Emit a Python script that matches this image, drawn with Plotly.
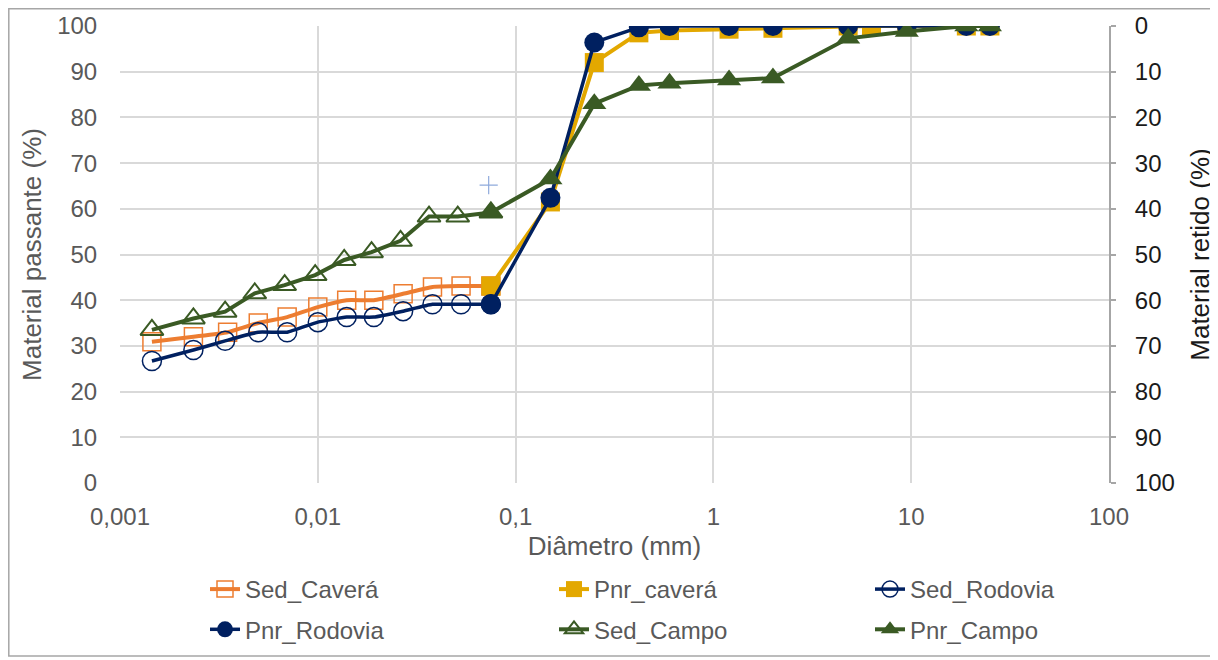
import plotly.graph_objects as go

# ---------------- data ----------------
sed_caveras_x = [0.00145, 0.00235, 0.0035, 0.0050, 0.0070, 0.0100, 0.0140, 0.0192, 0.0270, 0.0380, 0.0530, 0.075]
sed_caveras_y = [30.9, 32.0, 33.0, 35.0, 36.3, 38.5, 40.0, 40.0, 41.4, 42.9, 43.1, 43.1]

pnr_caveras_x = [0.075, 0.15, 0.25, 0.42, 0.6, 1.2, 2.0, 4.8, 6.3, 9.5, 19, 25]
pnr_caveras_y = [43.1, 61.5, 92.0, 98.5, 99.0, 99.3, 99.5, 100, 100, 100, 100, 100]

sed_rodovia_x = [0.00145, 0.00235, 0.0034, 0.0050, 0.0070, 0.0100, 0.0140, 0.0192, 0.0270, 0.0380, 0.0530, 0.075]
sed_rodovia_y = [26.7, 29.1, 31.1, 33.0, 33.0, 35.2, 36.3, 36.3, 37.6, 39.1, 39.1, 39.1]

pnr_rodovia_x = [0.075, 0.15, 0.25, 0.42, 0.6, 1.2, 2.0, 4.8, 9.5, 19, 25]
pnr_rodovia_y = [39.1, 62.4, 96.4, 99.7, 100, 100, 100, 100, 100, 100, 100]

sed_campo_x = [0.00145, 0.00235, 0.0034, 0.0048, 0.0068, 0.0097, 0.0136, 0.0187, 0.0262, 0.0365, 0.0510, 0.075]
sed_campo_y = [33.5, 36.0, 37.5, 41.5, 43.3, 45.5, 48.8, 50.5, 53.0, 58.3, 58.3, 59.2]

pnr_campo_x = [0.075, 0.15, 0.25, 0.42, 0.6, 1.2, 2.0, 4.8, 9.5, 19, 25]
pnr_campo_y = [59.2, 66.5, 83.0, 87.0, 87.5, 88.2, 88.6, 97.3, 98.8, 100, 100]

x_tickvals = [0.001, 0.01, 0.1, 1, 10, 100]
x_ticktext = ["0,001", "0,01", "0,1", "1", "10", "100"]
y_ticks = list(range(0, 101, 10))

# ---------------- style ----------------
ORANGE = "#ED7D31"
GOLD = "#E3A800"
NAVY = "#002060"
GREEN = "#3A5A24"
GRID = "#D9D9D9"
TXT = "#595959"
DARK = "#1A1A1A"
AXIS = "#A6A6A6"
FONT = "Liberation Sans, Arial, sans-serif"
TICK_SIZE = 24
TITLE_SIZE = 26
LEG_SIZE = 24

# the page adds an 8px body margin; work in page pixels and convert
OFF = 8
PAGE_W, PAGE_H = 1218, 660
W, H = PAGE_W - OFF, PAGE_H - OFF
PL, PR, PT, PB = 120, 1109, 26, 483          # plot area in page pixels
L, T = PL - OFF, PT - OFF
R, B = PAGE_W - PR, PAGE_H - PB
pw, ph = W - L - R, H - T - B


def px_x(p):
    return (p - PL) / pw


def px_y(p):
    return (PB - p) / ph


fig = go.Figure()

fig.add_trace(go.Scatter(
    x=sed_caveras_x, y=sed_caveras_y, name="Sed_Caverá", mode="lines+markers",
    legend="legend", legendgroup="g1",
    line=dict(color=ORANGE, width=4, shape="spline", smoothing=0.5),
    marker=dict(symbol="square-open", size=18, color=ORANGE, line=dict(width=1.5, color=ORANGE))))
fig.add_trace(go.Scatter(
    x=pnr_caveras_x, y=pnr_caveras_y, name="Pnr_caverá", mode="lines+markers",
    legend="legend2", legendgroup="g2",
    line=dict(color=GOLD, width=4),
    marker=dict(symbol="square", size=19, color=GOLD)))
fig.add_trace(go.Scatter(
    x=sed_rodovia_x, y=sed_rodovia_y, name="Sed_Rodovia", mode="lines+markers",
    legend="legend3", legendgroup="g3",
    line=dict(color=NAVY, width=3.5, shape="spline", smoothing=0.4),
    marker=dict(symbol="circle-open", size=19, color=NAVY, line=dict(width=1.5, color=NAVY))))
fig.add_trace(go.Scatter(
    x=pnr_rodovia_x, y=pnr_rodovia_y, name="Pnr_Rodovia", mode="lines+markers",
    legend="legend", legendgroup="g4",
    line=dict(color=NAVY, width=3.5),
    marker=dict(symbol="circle", size=20, color=NAVY)))
fig.add_trace(go.Scatter(
    x=sed_campo_x, y=sed_campo_y, name="Sed_Campo", mode="lines+markers",
    legend="legend2", legendgroup="g5",
    line=dict(color=GREEN, width=4),
    marker=dict(symbol="triangle-up-open", size=20, color=GREEN, line=dict(width=2, color=GREEN))))
fig.add_trace(go.Scatter(
    x=pnr_campo_x, y=pnr_campo_y, name="Pnr_Campo", mode="lines+markers",
    legend="legend3", legendgroup="g6",
    line=dict(color=GREEN, width=4),
    marker=dict(symbol="triangle-up", size=21, color=GREEN)))

# stray "+" marker seen in the original
fig.add_trace(go.Scatter(
    x=[0.0731], y=[65.2], mode="markers", showlegend=False, hoverinfo="skip",
    marker=dict(symbol="cross-thin-open", size=13, color="#8FAADC",
                line=dict(width=1.2, color="#8FAADC"))))

# dummy traces for the secondary (right) axes
fig.add_trace(go.Scatter(x=[None], y=[None], yaxis="y2", showlegend=False, hoverinfo="skip"))
fig.add_trace(go.Scatter(x=[None], y=[None], yaxis="y3", showlegend=False, hoverinfo="skip"))

fig.add_shape(type="rect", xref="x", yref="y", x0=0.0607, x1=0.0860, y0=68.5, y1=71.5,
              fillcolor="white", line=dict(width=0), layer="below")

# outer chart border
fig.add_shape(type="rect", xref="paper", yref="paper",
              x0=px_x(8.8), x1=px_x(1215), y0=px_y(656), y1=px_y(8.8),
              line=dict(color=AXIS, width=1.5), fillcolor="rgba(0,0,0,0)")

leg_common = dict(orientation="v", xanchor="left", yanchor="top", tracegroupgap=6,
                  font=dict(family=FONT, size=LEG_SIZE, color=TXT), bgcolor="rgba(0,0,0,0)")
leg_top = px_y(567)

fig.update_layout(
    width=W, height=H,
    margin=dict(l=L, r=R, t=T, b=B, autoexpand=False),
    paper_bgcolor="white", plot_bgcolor="white",
    font=dict(family=FONT, size=TICK_SIZE, color=TXT),
    showlegend=True,
    legend=dict(x=px_x(205), y=leg_top, **leg_common),
    legend2=dict(x=px_x(554), y=leg_top, **leg_common),
    legend3=dict(x=px_x(870), y=leg_top, **leg_common),
    xaxis=dict(type="log", range=[-3, 2], tickvals=x_tickvals, ticktext=x_ticktext,
               showgrid=True, gridcolor=GRID, gridwidth=1.5, zeroline=False,
               showline=False, ticks="outside", ticklen=12, tickcolor="rgba(0,0,0,0)",
               tickfont=dict(size=TICK_SIZE, color=TXT), automargin=False,
               title=dict(text="Diâmetro (mm)", font=dict(size=TITLE_SIZE, color=TXT), standoff=8)),
    yaxis=dict(range=[0, 100], tickvals=y_ticks, showgrid=True, gridcolor=GRID, gridwidth=1.5,
               zeroline=False, showline=False, ticks="outside", ticklen=17,
               tickcolor="rgba(0,0,0,0)", tickfont=dict(size=TICK_SIZE, color=TXT), automargin=False,
               title=dict(text="Material passante (%)", font=dict(size=TITLE_SIZE, color=TXT), standoff=8)),
    # right axis: labels + title
    yaxis2=dict(range=[100, 0], tickvals=y_ticks, overlaying="y", side="right", anchor="x",
                showgrid=False, zeroline=False, showline=False,
                ticks="outside", ticklen=20, tickcolor="rgba(0,0,0,0)", automargin=False,
                tickfont=dict(size=TICK_SIZE, color=DARK),
                title=dict(text="Material retido (%)", font=dict(size=TITLE_SIZE, color=DARK), standoff=16)),
    # right axis: visible line + short tick marks
    yaxis3=dict(range=[100, 0], tickvals=y_ticks, overlaying="y", side="right", anchor="x",
                showgrid=False, zeroline=False, showline=True, linecolor=AXIS, linewidth=1.5,
                ticks="outside", ticklen=5, tickcolor=AXIS, tickwidth=1.5,
                showticklabels=False, automargin=False),
)

fig.write_html("out.html")
